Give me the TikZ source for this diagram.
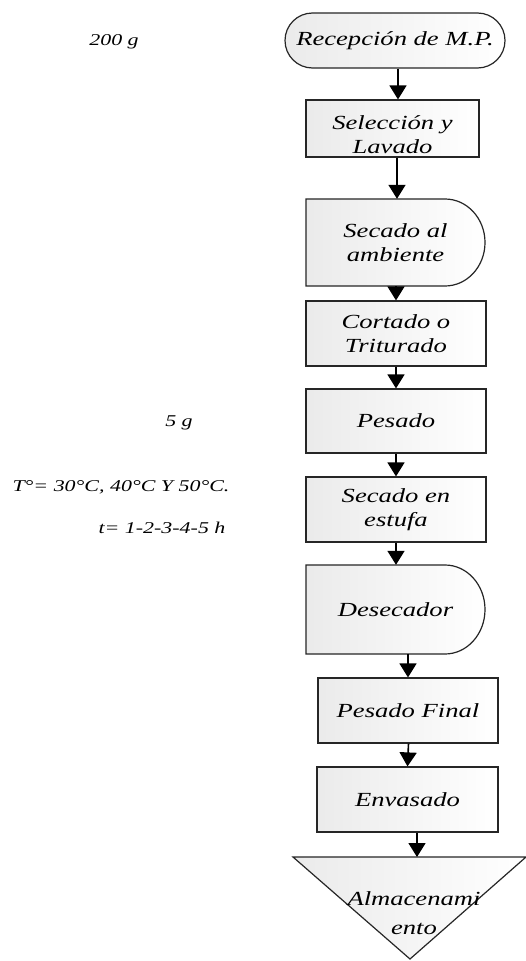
\documentclass[tikz,border=0pt]{standalone}
\usepackage{fontspec}
\usetikzlibrary{arrows.meta}
\newfontfamily\tnr[FakeStretch=1.33]{Liberation Serif}
\newcommand{\boxfnt}{\tnr\itshape\fontsize{20}{23.5}\selectfont}
\newcommand{\sidefnt}{\tnr\itshape\fontsize{16.5}{19}\selectfont}
\begin{document}
\begin{tikzpicture}[x=1pt,y=-1pt,
  outline/.style={draw=black!85, line width=1.2pt, left color=black!8, right color=white},
  box/.style={outline, minimum width=180pt, minimum height=65pt, inner sep=0pt, align=center, font=\boxfnt, text=black},
  txt/.style={inner sep=0pt, align=center, font=\boxfnt, text=black},
  side/.style={inner sep=0pt, font=\sidefnt, text=black},
  arr/.style={line width=1.6pt, -{Triangle[width=17pt,length=14pt]}}
]
\useasboundingbox (0,0) rectangle (526,961);
\fill[white] (0,0) rectangle (526,961);

% terminal
\node[box, rounded corners=27.5pt, minimum width=220pt, minimum height=55pt] (rec) at (395,40.5) {Recepción de M.P.};
% selection
\node[box, minimum width=173pt, minimum height=57pt] (sel) at (392.5,128.5) {\rule{0pt}{26pt}Selección y\\Lavado};
% delay 1
\path[outline] (306,199) -- (445,199) arc[start angle=-90,end angle=90,x radius=40,y radius=43.5] -- (306,286) -- cycle;
\node[txt, minimum width=179pt, minimum height=87pt] (sec) at (395.5,242.5) {Secado al\\ambiente};
% boxes
\node[box] (cor) at (396,333.5) {Cortado o\\Triturado};
\node[box, minimum height=64pt] (pes) at (396,421) {Pesado};
\node[box] (est) at (396,509.5) {Secado en\\estufa};
% delay 2
\path[outline] (306,565) -- (445,565) arc[start angle=-90,end angle=90,x radius=40,y radius=44.5] -- (306,654) -- cycle;
\node[txt, minimum width=179pt, minimum height=89pt] (des) at (395.5,609.5) {Desecador};
\node[box] (pf) at (408,710.5) {Pesado Final};
\node[box, minimum width=181pt] (env) at (407.5,799.5) {Envasado};
% storage triangle
\path[outline] (293,857) -- (526,857) -- (410,959) -- cycle;
\coordinate (tritop) at (417,857);
\node[txt] (alm) at (414,913) {Almacenami\\[5pt]ento};

% side labels
\node[side] (l200) at (114,42) {200 g};
\node[side] (l5) at (179,423) {5 g};
\node[side] (lT) at (121,487) {T°= 30°C, 40°C Y 50°C.};
\node[side] (lt) at (162,528) {t= 1-2-3-4-5 h};

% connectors
\draw[arr] ([xshift=3pt]rec.south) -- ([xshift=5.5pt]sel.north);
\draw[arr] ([xshift=4.5pt]sel.south) -- ([xshift=1.5pt]sec.north);
\draw[arr] ([xshift=0.5pt]sec.south) -- (cor.north);
\draw[arr] (cor.south) -- (pes.north);
\draw[arr] (pes.south) -- (est.north);
\draw[arr] (est.south) -- ([xshift=0.5pt]des.north);
\draw[arr] (des.south -| pf.north) -- (pf.north);
\draw[arr] ([xshift=0.5pt]pf.south) -- (env.north);
\draw[arr] (env.south -| tritop) -- (tritop);
\end{tikzpicture}
\end{document}
